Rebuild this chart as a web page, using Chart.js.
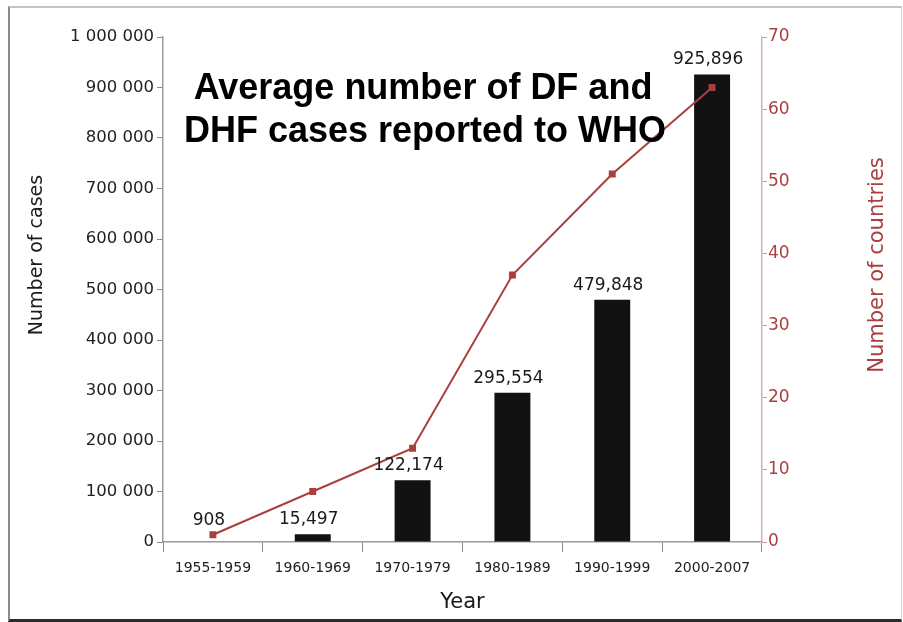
<!DOCTYPE html>
<html>
<head>
<meta charset="utf-8">
<script src="https://cdn.jsdelivr.net/npm/chart.js@4"></script>
<style>
  body { margin: 0; background: #fff; }
  #wrap { position: relative; width: 903px; height: 622px; overflow: hidden; }
  #chart { position: absolute; left: 0; top: 0; }
  /* picture frame round the figure */
  #frame {
    position: absolute; left: 8px; top: 6px; right: 1px; bottom: 0;
    border-top: 2px solid #c4c4c4;
    border-left: 2px solid #8a8a8a;
    border-right: 1px solid #d0d0d0;
    border-bottom: 3px solid #2b2b2b;
    pointer-events: none;
  }
</style>
</head>
<body>
<div id="wrap">
  <canvas id="chart" width="903" height="622"></canvas>
  <div id="frame"></div>
</div>
<script>
// Data
const periods = ['1955-1959', '1960-1969', '1970-1979', '1980-1989', '1990-1999', '2000-2007'];
const cases = [908, 15497, 122174, 295554, 479848, 925896];
const countries = [1, 7, 13, 37, 51, 63];
const titleLines = ['Average number of DF and', 'DHF cases reported to WHO'];

const RED = '#a8403f';
const TICK_FONT = 'DejaVu Sans';

// Bar value labels, title inside the plot and the two side titles
const annotations = {
  id: 'annotations',
  afterDatasetsDraw(chart) {
    const ctx = chart.ctx;
    const meta = chart.getDatasetMeta(1);
    ctx.save();
    ctx.fillStyle = '#1a1a1a';
    ctx.font = '17px "' + TICK_FONT + '"';
    ctx.textAlign = 'center';
    ctx.textBaseline = 'bottom';
    meta.data.forEach((bar, i) => {
      const lift = i === 0 ? 12 : 6; // first label sits above the point
      ctx.fillText(cases[i].toLocaleString('en-US'), bar.x - 4, bar.y - lift);
    });

    ctx.font = 'bold 36px "Liberation Sans"';
    ctx.fillStyle = '#000';
    ctx.textBaseline = 'alphabetic';
    ctx.fillText(titleLines[0], 423, 99);
    ctx.fillText(titleLines[1], 425, 142);

    ctx.textBaseline = 'middle';
    ctx.save();
    ctx.font = '19px "' + TICK_FONT + '"';
    ctx.translate(37, 255);
    ctx.rotate(-Math.PI / 2);
    ctx.fillStyle = '#1a1a1a';
    ctx.fillText('Number of cases', 0, 0);
    ctx.restore();

    ctx.save();
    ctx.font = '21px "' + TICK_FONT + '"';
    ctx.translate(878, 265);
    ctx.rotate(-Math.PI / 2);
    ctx.fillStyle = RED;
    ctx.fillText('Number of countries', 0, 0);
    ctx.restore();
    ctx.restore();
  }
};

new Chart(document.getElementById('chart'), {
  data: {
    labels: periods,
    datasets: [{
      type: 'line',
      label: 'Number of countries',
      data: countries,
      yAxisID: 'y1',
      borderColor: RED,
      backgroundColor: RED,
      borderWidth: 2,
      pointStyle: 'rect',
      pointRadius: 3.5,
      tension: 0,
      order: 0
    }, {
      type: 'bar',
      label: 'Number of cases',
      data: cases,
      yAxisID: 'y',
      backgroundColor: '#121212',
      barPercentage: 0.36,
      categoryPercentage: 1,
      order: 1
    }]
  },
  options: {
    responsive: false,
    animation: false,
    layout: { padding: { top: 37, left: 0, right: 0, bottom: 0 } },
    plugins: {
      legend: { display: false },
      tooltip: { enabled: false }
    },
    scales: {
      x: {
        afterFit: s => { s.height = 80; },
        grid: { offset: true, drawOnChartArea: false, tickLength: 10, color: '#8a8a8a' },
        border: { color: '#9a9a9a', width: 1.5 },
        ticks: { color: '#222', font: { family: TICK_FONT, size: 14 }, padding: 8 },
        title: { display: true, text: 'Year', color: '#1a1a1a', font: { family: TICK_FONT, size: 21 }, padding: { bottom: 7 } }
      },
      y: {
        position: 'left',
        min: 0,
        max: 1000000,
        afterFit: s => { s.width = 163; },
        grid: { drawOnChartArea: false, tickLength: 6, color: '#8a8a8a' },
        border: { color: '#9a9a9a', width: 1.5 },
        ticks: {
          stepSize: 100000,
          color: '#222',
          padding: 3,
          font: { family: TICK_FONT, size: 16.5 },
          callback: v => v.toLocaleString('en-US').replace(/,/g, ' ')
        }
      },
      y1: {
        position: 'right',
        min: 0,
        max: 70,
        afterFit: s => { s.width = 141; },
        grid: { drawOnChartArea: false, tickLength: 5, color: '#c99a9a' },
        border: { color: '#d8b0b0', width: 1.5 },
        ticks: { stepSize: 10, color: RED, padding: 1, font: { family: TICK_FONT, size: 17 } }
      }
    }
  },
  plugins: [annotations]
});
</script>
</body>
</html>
